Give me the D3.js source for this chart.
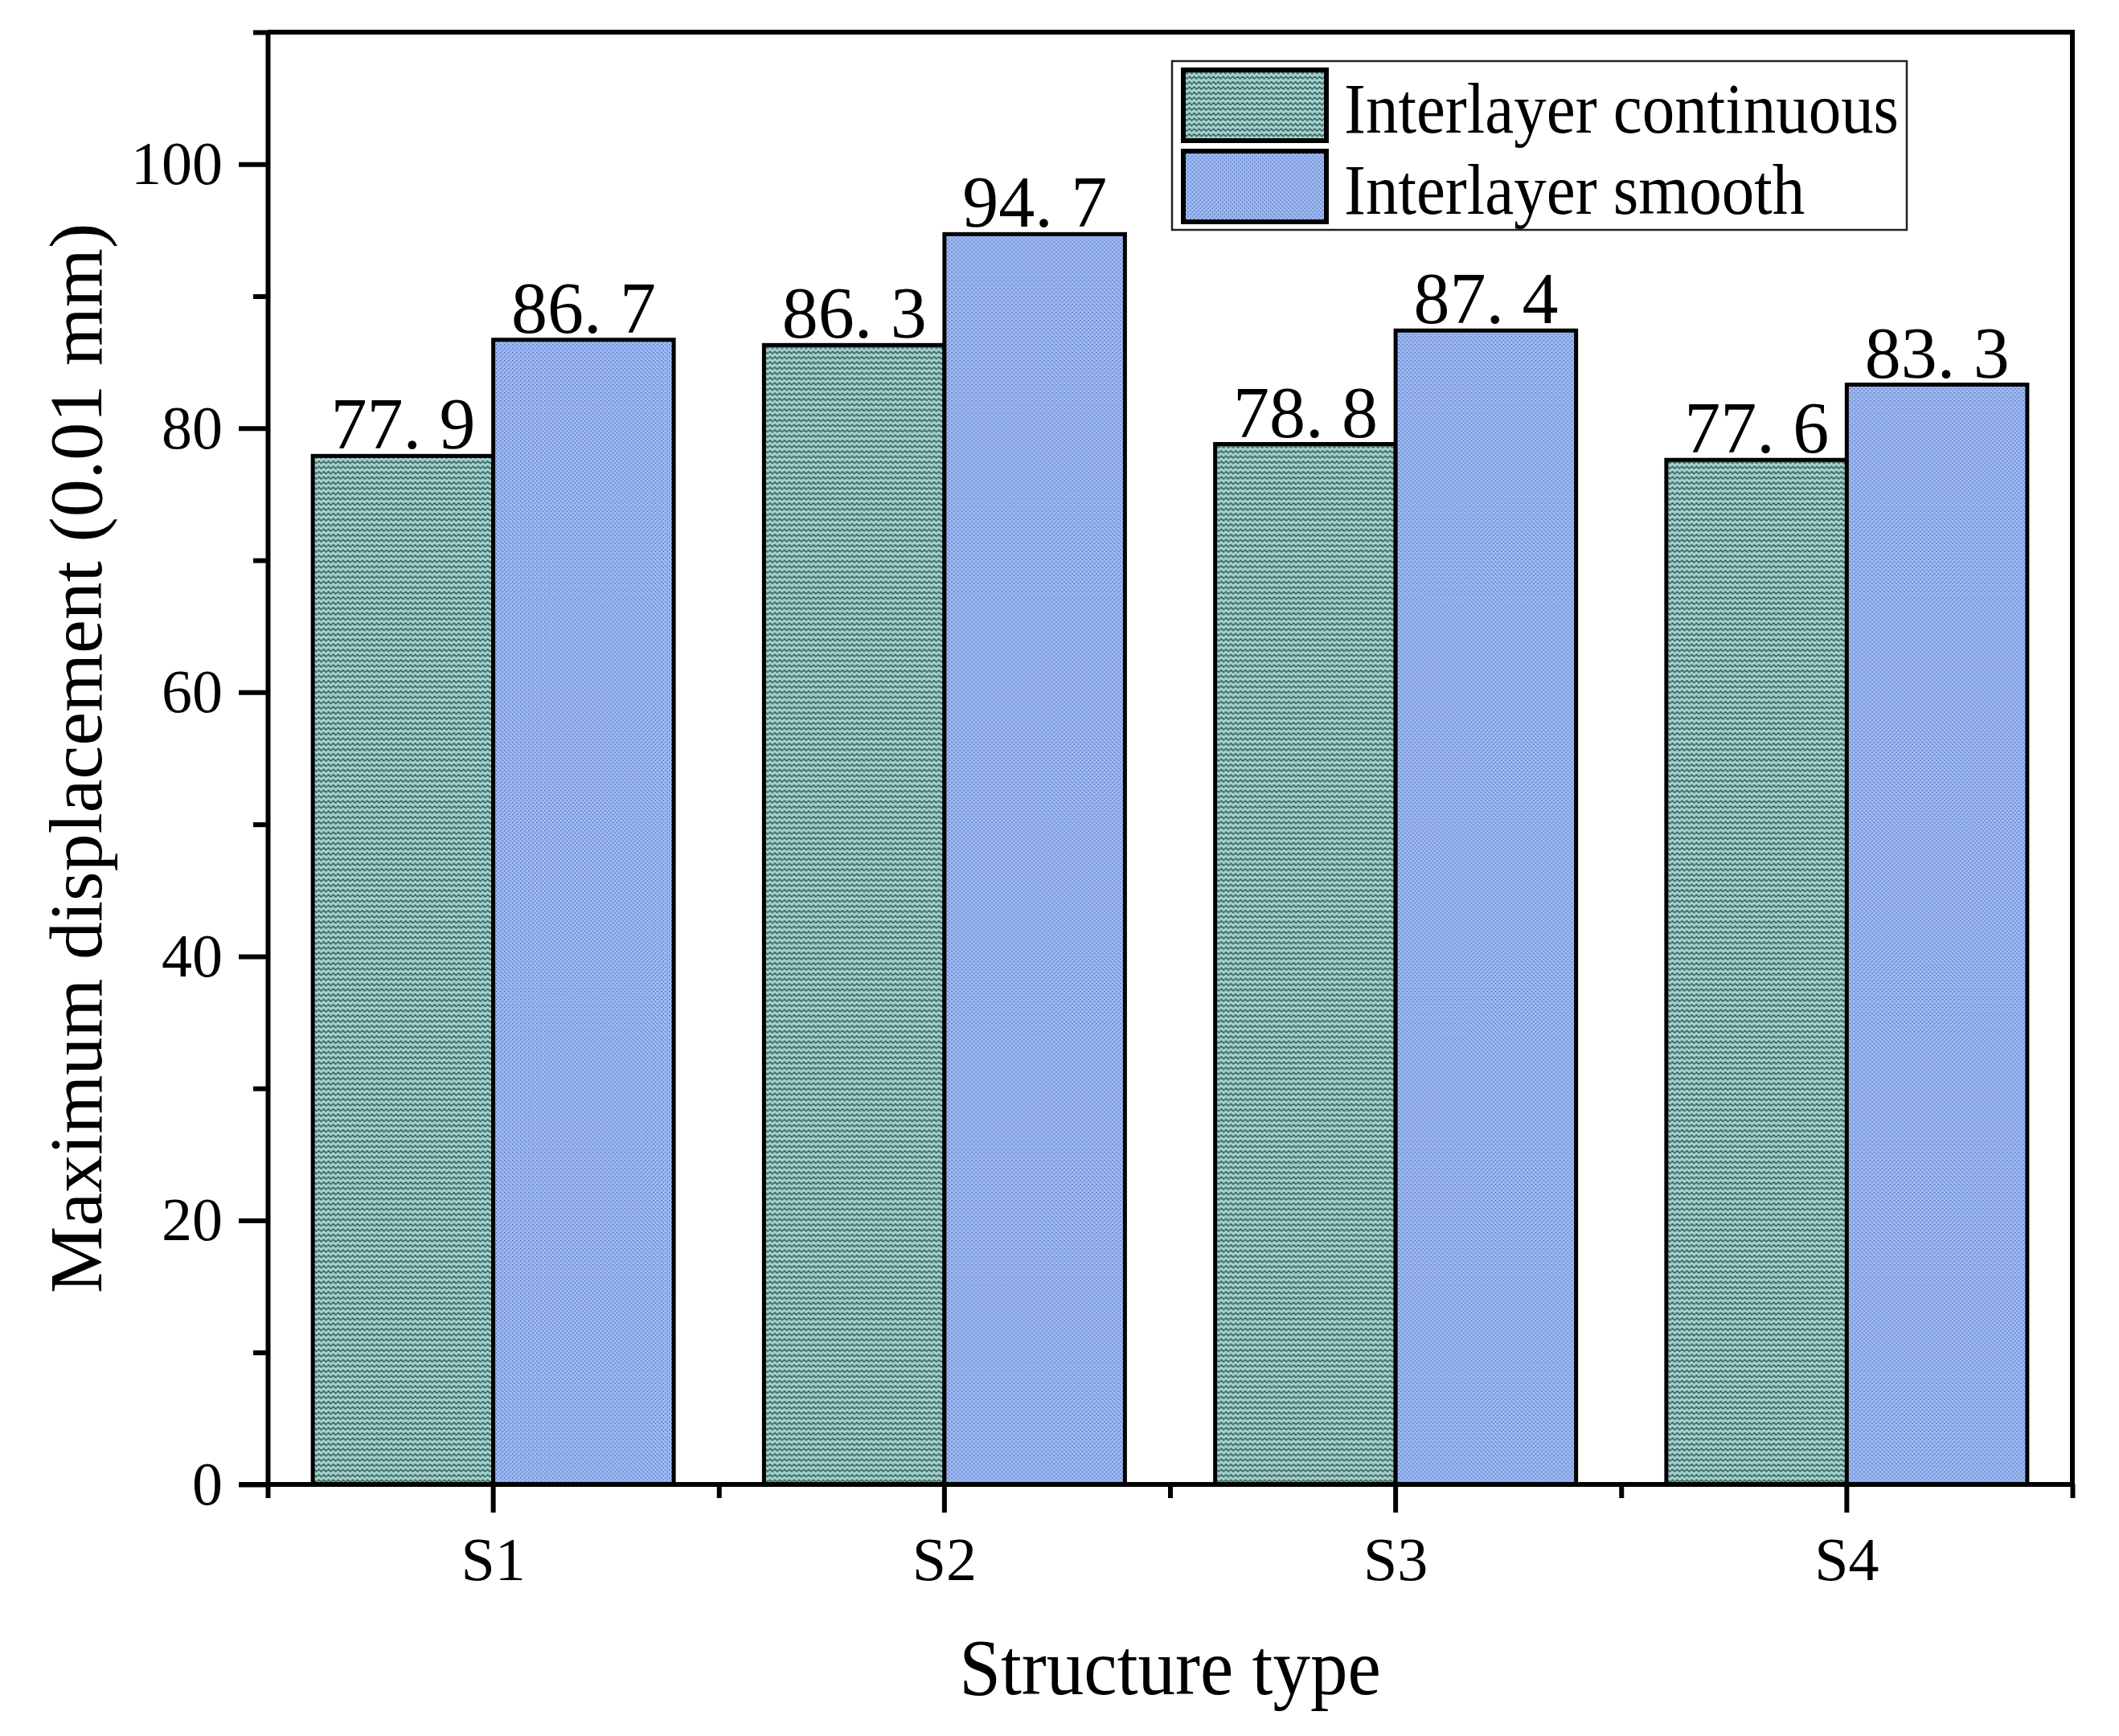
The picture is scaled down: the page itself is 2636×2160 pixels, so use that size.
<!DOCTYPE html>
<html>
<head>
<meta charset="UTF-8">
<title>Maximum displacement</title>
<script type="text/javascript" src="https://cdn.jsdelivr.net/npm/d3@7/dist/d3.min.js"></script>
<style type="text/css">
body{margin:0;background:#fff;}
text{font-family:"Liberation Serif","Times New Roman",serif;fill:#000;}
</style>
</head>
<body>
<script type="text/javascript">
var width=2636, height=2160;
var margin={left:333,right:58,top:40,bottom:313};

// data
var categories=["S1","S2","S3","S4"];
var seriesNames=["Interlayer continuous","Interlayer smooth"];
var continuous=[77.9,86.3,78.8,77.6];
var smooth=[86.7,94.7,87.4,83.3];
var yTicks=[0,20,40,60,80,100];
var yMinorTicks=[10,30,50,70,90,110];
var xTitle="Structure type";
var yTitle="Maximum displacement (0.01 mm)";

var svg=d3.select("body").append("svg")
  .attr("width",width).attr("height",height);

var defs=svg.append("defs");
// wavy pattern for the green bars
var pw=defs.append("pattern").attr("id","wave")
  .attr("patternUnits","userSpaceOnUse").attr("width",6).attr("height",6.5);
pw.append("rect").attr("width",6).attr("height",6.5).attr("fill","#a2d0cd");
pw.append("path").attr("d","M0,3.2 L1.5,1.8 L3,3.2 L4.5,4.6 L6,3.2")
  .attr("fill","none").attr("stroke","#2f5753").attr("stroke-width",1.5);
// dotted pattern for the blue bars
var pd=defs.append("pattern").attr("id","dots")
  .attr("patternUnits","userSpaceOnUse").attr("width",5).attr("height",5);
pd.append("rect").attr("width",5).attr("height",5).attr("fill","#9cb9f5");
pd.append("rect").attr("x",0.5).attr("y",0.5).attr("width",1.3).attr("height",1.3).attr("fill","#4a629c");
pd.append("rect").attr("x",3).attr("y",3).attr("width",1.3).attr("height",1.3).attr("fill","#4a629c");
var fills=["url(#wave)","url(#dots)"];

var x0=margin.left, x1=width-margin.right, y0=height-margin.bottom, y1=margin.top;

var x=d3.scaleBand().domain(categories).range([x0,x1])
  .paddingInner(0.2).paddingOuter(0.1);
var xs=d3.scaleBand().domain(seriesNames).range([0,x.bandwidth()]);
var xEdge=d3.scaleLinear().domain([0,categories.length]).range([x0,x1]);
var y=d3.scaleLinear().domain([0,110]).range([y0,y1]);

var rows=categories.map(function(c,i){
  return {cat:c,vals:[{s:seriesNames[0],v:continuous[i],k:0},{s:seriesNames[1],v:smooth[i],k:1}]};
});

// bars
var groups=svg.append("g").selectAll("g").data(rows).enter().append("g")
  .attr("transform",function(d){return "translate("+x(d.cat)+",0)";});
groups.selectAll("rect").data(function(d){return d.vals;}).enter().append("rect")
  .attr("x",function(d){return xs(d.s);})
  .attr("y",function(d){return y(d.v);})
  .attr("width",xs.bandwidth())
  .attr("height",function(d){return y(0)-y(d.v);})
  .attr("fill",function(d){return fills[d.k];})
  .attr("stroke","#000").attr("stroke-width",5);
groups.selectAll("text").data(function(d){return d.vals;}).enter().append("text")
  .attr("x",function(d){return xs(d.s)+xs.bandwidth()/2;})
  .attr("y",function(d){return y(d.v)-9;})
  .attr("text-anchor","middle")
  .style("font-size","90px")
  .text(function(d){return d3.format(".1f")(d.v).replace(".",". ");});

// frame top / right
svg.append("line").attr("x1",x0).attr("x2",x1).attr("y1",y(110)).attr("y2",y(110))
  .attr("stroke","#000").attr("stroke-width",6);
svg.append("line").attr("x1",x1).attr("x2",x1).attr("y1",y(110)-3).attr("y2",y(0))
  .attr("stroke","#000").attr("stroke-width",6);

// y axis
var gy=svg.append("g").attr("transform","translate("+x0+",0)");
gy.call(d3.axisLeft(y).tickValues(yMinorTicks).tickSize(18).tickFormat(""));
gy.call(function(g){g.select(".domain").remove();});
var gy2=svg.append("g").attr("transform","translate("+x0+",0)");
gy2.call(d3.axisLeft(y).tickValues(yTicks).tickSize(36).tickPadding(20).tickSizeOuter(0));
svg.selectAll(".tick line").attr("stroke-width",6);
gy2.select(".domain").attr("stroke-width",6);
gy2.selectAll("text").style("font-size","76px").attr("font-family",null);

// x axis
var gxm=svg.append("g").attr("transform","translate(0,"+y0+")");
gxm.call(d3.axisBottom(xEdge).tickValues(d3.range(categories.length+1)).tickSize(17).tickFormat(""));
gxm.select(".domain").remove();
var gx=svg.append("g").attr("transform","translate(0,"+y0+")");
gx.call(d3.axisBottom(x).tickSize(35).tickPadding(30).tickSizeOuter(0));
gx.select(".domain").attr("stroke-width",6).attr("d","M"+(x0-36)+",0H"+(x1+3));
svg.selectAll(".tick line").attr("stroke-width",6);
gx.selectAll("text").style("font-size","76px").attr("font-family",null);

// titles
svg.append("text").attr("transform","translate("+((x0+x1)/2)+",2108) scale(0.94,1)")
  .attr("text-anchor","middle").style("font-size","99px").text(xTitle);
svg.append("text").attr("transform","translate(126,"+((y0+y1)/2)+") rotate(-90)")
  .attr("text-anchor","middle").style("font-size","94px").text(yTitle);

// legend
var lg=svg.append("g").attr("transform","translate(1458,76)");
lg.append("rect").attr("width",914).attr("height",210)
  .attr("fill","#fff").attr("stroke","#222").attr("stroke-width",2.5);
var items=lg.selectAll("g").data(seriesNames).enter().append("g")
  .attr("transform",function(d,i){return "translate(14,"+(11+i*101)+")";});
items.append("rect").attr("width",178).attr("height",88)
  .attr("fill",function(d,i){return fills[i];})
  .attr("stroke","#000").attr("stroke-width",6);
items.append("text").attr("transform","translate(200,78) scale(0.92,1)")
  .style("font-size","88px").text(function(d){return d;});
</script>
</body>
</html>
